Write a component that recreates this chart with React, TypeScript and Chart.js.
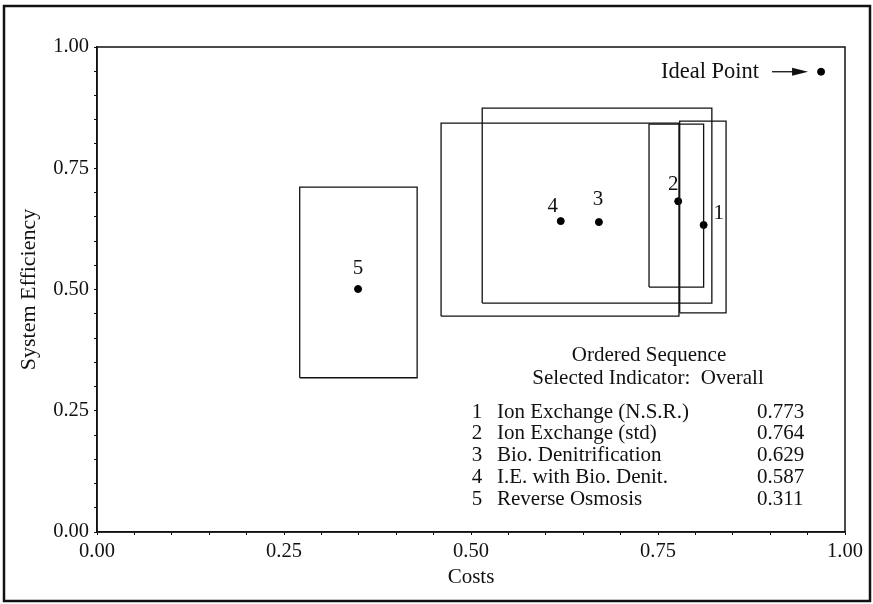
import React, { useEffect, useRef } from "react";
import { Chart, registerables } from "chart.js";

Chart.register(...registerables);

// ---- data ----
const altIds = ["1", "2", "3", "4", "5"];
const costX = [0.811, 0.777, 0.671, 0.62, 0.349];
const effY = [0.633, 0.682, 0.639, 0.641, 0.501];
const boxXMin = [0.779, 0.738, 0.515, 0.46, 0.271];
const boxXMax = [0.841, 0.811, 0.822, 0.778, 0.428];
const boxYMin = [0.452, 0.505, 0.472, 0.445, 0.318];
const boxYMax = [0.847, 0.841, 0.874, 0.843, 0.711];
const idealPoint = { x: 0.968, y: 0.949 };
const xTickLabels = ["0.00", "0.25", "0.50", "0.75", "1.00"];
const yTickLabels = ["0.00", "0.25", "0.50", "0.75", "1.00"];
const legendTitle = ["Ordered Sequence", "Selected Indicator:  Overall"];
const legendRanks = ["1", "2", "3", "4", "5"];
const legendNames = [
  "Ion Exchange (N.S.R.)",
  "Ion Exchange (std)",
  "Bio. Denitrification",
  "I.E. with Bio. Denit.",
  "Reverse Osmosis",
];
const legendScores = ["0.773", "0.764", "0.629", "0.587", "0.311"];

const FONT = '"Liberation Serif", "DejaVu Serif", serif';
const labelOffsets = [
  [15, -12],
  [-5, -17],
  [-1, -23],
  [-8, -15],
  [0, -21],
];

const isQuarter = (v: number) => Math.abs(v * 4 - Math.round(v * 4)) < 1e-6;

export default function App() {
  const ref = useRef<HTMLCanvasElement | null>(null);

  useEffect(() => {
    if (!ref.current) return;
    const boxDatasets = altIds.map((_, i) => ({
      type: "scatter" as const,
      data: [
        { x: boxXMin[i], y: boxYMin[i] },
        { x: boxXMax[i], y: boxYMin[i] },
        { x: boxXMax[i], y: boxYMax[i] },
        { x: boxXMin[i], y: boxYMax[i] },
        { x: boxXMin[i], y: boxYMin[i] },
      ],
      showLine: true,
      borderColor: "#111",
      borderWidth: 1.3,
      pointRadius: 0,
      fill: false,
    }));
    const pointDataset = {
      type: "scatter" as const,
      data: costX.map((x, i) => ({ x, y: effY[i] })).concat([idealPoint]),
      pointRadius: 3.5,
      pointBackgroundColor: "#000",
      pointBorderColor: "#000",
      showLine: false,
    };

    const overlay = {
      id: "overlay",
      afterDatasetsDraw(chart: any) {
        const ctx = chart.ctx;
        const xs = chart.scales.x;
        const ys = chart.scales.y;
        ctx.save();
        ctx.fillStyle = "#111";
        ctx.font = `21px ${FONT}`;
        ctx.textAlign = "center";
        ctx.textBaseline = "middle";
        altIds.forEach((id, i) => {
          const px = xs.getPixelForValue(costX[i]);
          const py = ys.getPixelForValue(effY[i]);
          ctx.fillText(id, px + labelOffsets[i][0], py + labelOffsets[i][1]);
        });
        // ideal point annotation
        const ix = xs.getPixelForValue(idealPoint.x);
        const iy = ys.getPixelForValue(idealPoint.y);
        ctx.font = `22.5px ${FONT}`;
        ctx.textAlign = "right";
        ctx.fillText("Ideal Point", ix - 62, iy);
        ctx.strokeStyle = "#111";
        ctx.lineWidth = 1.3;
        ctx.beginPath();
        ctx.moveTo(ix - 49, iy);
        ctx.lineTo(ix - 20, iy);
        ctx.stroke();
        ctx.beginPath();
        ctx.moveTo(ix - 13, iy);
        ctx.lineTo(ix - 29, iy - 4);
        ctx.lineTo(ix - 29, iy + 4);
        ctx.closePath();
        ctx.fill();
        // legend block
        ctx.font = `21px ${FONT}`;
        ctx.textAlign = "center";
        ctx.fillText(legendTitle[0], 649, 355);
        ctx.fillText(legendTitle[1], 648, 378);
        legendRanks.forEach((r, i) => {
          const y = 412 + i * 21.8;
          ctx.textAlign = "center";
          ctx.fillText(r, 477, y);
          ctx.textAlign = "left";
          ctx.fillText(legendNames[i], 497, y);
          ctx.fillText(legendScores[i], 757, y);
        });
        // plot frame
        const a = chart.chartArea;
        ctx.lineWidth = 1.5;
        ctx.strokeRect(a.left, a.top, a.right - a.left, a.bottom - a.top);
        // outer frame
        ctx.lineWidth = 2.5;
        ctx.strokeRect(4, 6, 866, 595);
        ctx.restore();
      },
    };

    const chart = new Chart(ref.current, {
      type: "scatter",
      data: { datasets: [...boxDatasets, pointDataset] as any },
      plugins: [overlay],
      options: {
        animation: false,
        responsive: false,
        devicePixelRatio: 1,
        layout: { padding: { top: 47, right: 28, left: 0, bottom: 0 } },
        plugins: { legend: { display: false }, tooltip: { enabled: false } },
        scales: {
          x: {
            type: "linear",
            min: 0,
            max: 1,
            afterFit: (s: any) => {
              s.height = 72;
            },
            ticks: {
              stepSize: 0.05,
              autoSkip: false,
              maxRotation: 0,
              color: "#111",
              font: { family: FONT, size: 20.5 },
              padding: 4,
              callback: (v: any) =>
                isQuarter(Number(v)) ? xTickLabels[Math.round(Number(v) * 4)] : "",
            },
            grid: { drawOnChartArea: false, drawTicks: true, tickLength: 3, color: "#111" },
            border: { display: true, color: "#111", width: 1.5 },
            title: {
              display: true,
              text: "Costs",
              color: "#111",
              font: { family: FONT, size: 21 },
              padding: { top: 0, bottom: 14 },
            },
          },
          y: {
            type: "linear",
            min: 0,
            max: 1,
            afterFit: (s: any) => {
              s.width = 97;
            },
            ticks: {
              stepSize: 0.05,
              autoSkip: false,
              color: "#111",
              font: { family: FONT, size: 20.5 },
              padding: 5,
              callback: (v: any) =>
                isQuarter(Number(v)) ? yTickLabels[Math.round(Number(v) * 4)] : "",
            },
            grid: { drawOnChartArea: false, drawTicks: true, tickLength: 3, color: "#111" },
            border: { display: true, color: "#111", width: 1.5 },
            title: {
              display: true,
              text: "System Efficiency",
              color: "#111",
              font: { family: FONT, size: 22 },
              padding: { top: 16, bottom: 0 },
            },
          },
        },
      } as any,
    });
    return () => chart.destroy();
  }, []);

  return (
    <div style={{ position: "absolute", left: 0, top: 0, width: 873, height: 604, background: "#fff" }}>
      <canvas ref={ref} width={873} height={604} style={{ display: "block" }} />
    </div>
  );
}
